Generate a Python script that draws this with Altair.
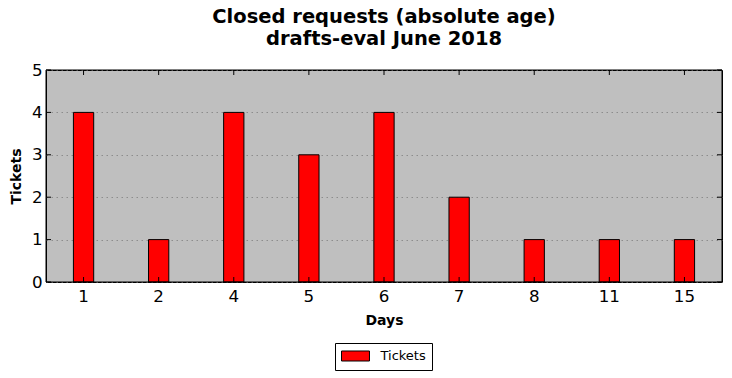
import altair as alt
import pandas as pd

days = ["1", "2", "4", "5", "6", "7", "8", "11", "15"]
tickets = [4, 1, 4, 3, 4, 2, 1, 1, 1]
y_ticks = [0, 1, 2, 3, 4, 5]

W, H = 676, 212
FONT = "DejaVu Sans"

df = pd.DataFrame({"Days": days, "Tickets": tickets, "series": ["Tickets"] * len(days)})
yt = pd.DataFrame({"v": y_ticks})
frame = pd.DataFrame({"k": [0]})

xscale = alt.Scale(domain=days, paddingInner=0.73, paddingOuter=0.365)
yscale = alt.Scale(domain=[0, 5], nice=False)

bars = alt.Chart(df).mark_bar(stroke="black", strokeWidth=1).encode(
    x=alt.X("Days:N", sort=days, scale=xscale,
            axis=alt.Axis(title="Days", labelAngle=0, labelFont=FONT, labelFontSize=16.7,
                          labelColor="black", labelPadding=6, ticks=False, domain=False,
                          titleFont=FONT, titleFontSize=14, titleFontWeight="bold",
                          titleColor="black", titlePadding=9, grid=False)),
    y=alt.Y("Tickets:Q", scale=yscale,
            axis=alt.Axis(title="Tickets", values=y_ticks, labelFont=FONT, labelFontSize=16.7,
                          labelColor="black", labelPadding=4, ticks=False, domain=False,
                          titleFont=FONT, titleFontSize=14, titleFontWeight="bold",
                          titleColor="black", titlePadding=8,
                          grid=True, gridColor="#8c8c8c", gridDash=[1.5, 3.5], gridWidth=1)),
    color=alt.Color("series:N", scale=alt.Scale(domain=["Tickets"], range=["red"]),
                    legend=alt.Legend(title=None, orient="none", legendX=289, legendY=273,
                                      symbolType="M-2.15,-0.77H2.15V0.77H-2.15Z", symbolSize=169,
                                      symbolOffset=7.5, labelOffset=18,
                                      symbolStrokeColor="black", symbolStrokeWidth=1,
                                      labelFont=FONT, labelFontSize=13, labelColor="black",
                                      strokeColor="black", padding=6, fillColor="white",
                                      cornerRadius=0)),
)

border = alt.Chart(frame).mark_rect(fill=None, stroke="black", strokeWidth=1).encode(
    x=alt.value(0), x2=alt.value(W), y=alt.value(0), y2=alt.value(H))
top_ticks = alt.Chart(df).mark_rule(color="black", strokeWidth=1).encode(
    x=alt.X("Days:N", sort=days, scale=xscale), y=alt.value(0), y2=alt.value(5))
bot_ticks = alt.Chart(df).mark_rule(color="black", strokeWidth=1).encode(
    x=alt.X("Days:N", sort=days, scale=xscale), y=alt.value(H), y2=alt.value(H - 5))
left_ticks = alt.Chart(yt).mark_rule(color="black", strokeWidth=1).encode(
    y=alt.Y("v:Q", scale=yscale), x=alt.value(0), x2=alt.value(5))
right_ticks = alt.Chart(yt).mark_rule(color="black", strokeWidth=1).encode(
    y=alt.Y("v:Q", scale=yscale), x=alt.value(W), x2=alt.value(W - 5))

chart = alt.layer(bars, border, top_ticks, bot_ticks, left_ticks, right_ticks).properties(
    width=W, height=H,
    title=alt.TitleParams(["Closed requests (absolute age)", "drafts-eval June 2018"],
                          font=FONT, fontSize=19.5, fontWeight="bold", color="black",
                          anchor="middle", lineHeight=22, offset=13),
    autosize=alt.AutoSizeParams(type="none"),
    padding={"left": 46, "top": 70, "right": 10, "bottom": 96},
    background="white",
).configure_view(fill="#bfbfbf", stroke="black", strokeWidth=1)

chart.save("out.html", embed_options={"renderer": "svg", "actions": False})
